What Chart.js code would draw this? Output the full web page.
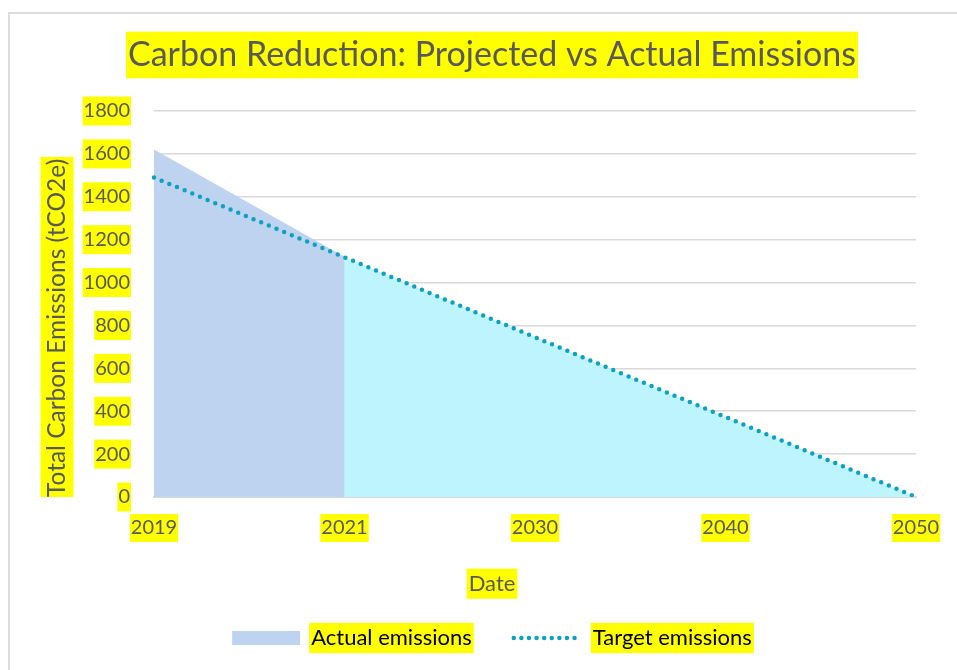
<!DOCTYPE html>
<html>
<head>
<meta charset="utf-8">
<script src="https://cdn.jsdelivr.net/npm/chart.js@4.4.0/dist/chart.umd.min.js"></script>
<style>
  html, body { margin: 0; padding: 0; background: #fff; overflow: hidden; }
  #frame { position: absolute; left: 8px; top: 12px; width: 1000px; height: 700px;
           border-left: 2px solid #dcdcdc; border-top: 2px solid #dcdcdc; }
  #wrap { position: absolute; left: 0; top: 0; width: 984px; height: 670px; }
</style>
</head>
<body>
<div id="frame"></div>
<div id="wrap"><canvas id="chart-emissions"></canvas></div>
<script>
const years = ['2019', '2021', '2030', '2040', '2050'];
const actual_emissions = [1620, 1120, null, null, null];
const target_emissions = [1490, 1118, 745, 373, 0];
const y_tick_values = [0, 200, 400, 600, 800, 1000, 1200, 1400, 1600, 1800];

const TEXT_COLOR = '#595959';
const HIGHLIGHT = '#ffff00';
const ACTUAL_FILL = '#bdd3ef';
const TARGET_FILL = '#bef4fd';
const TARGET_LINE = '#0ea2bf';
const FONT = 'Lato';

Chart.defaults.font.family = FONT;
Chart.defaults.color = TEXT_COLOR;

// yellow marker behind the title, axis title and legend texts
function markRect(ctx, x, y, w, h) {
  ctx.fillStyle = HIGHLIGHT;
  ctx.fillRect(x, y, w, h);
}

const highlightPlugin = {
  id: 'highlight',
  beforeDraw(chart) {
    const { toFont, toPadding } = Chart.helpers;
    const ctx = chart.ctx;
    ctx.save();

    // title + subtitle (both are Title boxes)
    chart.boxes
      .filter(b => chart.titleBlock && b.constructor === chart.titleBlock.constructor && b.options.display)
      .forEach(b => {
        const font = toFont(b.options.font);
        const pad = toPadding(b.options.padding);
        ctx.font = font.string;
        const w = ctx.measureText(b.options.text).width;
        const cx = (b.left + b.right) / 2;
        const cy = b.top + pad.top + font.lineHeight / 2;
        const h = font.size * 1.37;
        markRect(ctx, cx - w / 2 - 2, cy - h / 2, w + 4, h);
      });

    // rotated y axis title, starts at the bottom of the scale
    const ys = chart.scales.y;
    const yt = ys.options.title;
    const yFont = toFont(yt.font);
    const yPad = toPadding(yt.padding);
    ctx.font = yFont.string;
    const yw = ctx.measureText(yt.text).width;
    const ycx = ys.left + yPad.top + yFont.lineHeight / 2;
    const yh = yFont.size * 1.35;
    markRect(ctx, ycx - yh / 2, ys.bottom - yw - 2, yh, yw + 2);

    // legend texts
    const legend = chart.legend;
    const lab = legend.options.labels;
    const lFont = toFont(lab.font);
    ctx.font = lFont.string;
    legend.legendItems.forEach((item, i) => {
      const hb = legend.legendHitBoxes[i];
      const w = ctx.measureText(item.text).width;
      const tx = hb.left + lab.pointStyleWidth + lFont.size / 2;
      const cy = hb.top + hb.height / 2;
      const h = lFont.size * 1.38;
      markRect(ctx, tx - 2, cy - h / 2, w + 4, h);
    });

    ctx.restore();
  }
};

const ctx = document.getElementById('chart-emissions');
const chart = new Chart(ctx, {
  type: 'line',
  plugins: [highlightPlugin],
  data: {
    labels: years,
    datasets: [
      {
        label: 'Actual emissions',
        data: actual_emissions,
        backgroundColor: ACTUAL_FILL,
        borderColor: 'rgba(0,0,0,0)',
        borderWidth: 0,
        pointRadius: 0,
        fill: 'origin',
        spanGaps: false
      },
      {
        label: 'Target emissions',
        data: target_emissions,
        backgroundColor: TARGET_FILL,
        borderColor: TARGET_LINE,
        borderWidth: 4.5,
        borderDash: [0, 8.3],
        borderCapStyle: 'round',
        pointRadius: 0,
        fill: 'origin'
      }
    ]
  },
  options: {
    responsive: true,
    maintainAspectRatio: false,
    animation: false,
    layout: {
      padding: { top: 0, left: 0, right: 0, bottom: 11 }
    },
    scales: {
      x: {
        grid: { display: false },
        border: { display: true, color: '#d9d9d9', width: 2 },
        ticks: {
          font: { size: 20 },
          padding: 11,
          maxRotation: 0,
          autoSkip: false,
          showLabelBackdrop: true,
          backdropColor: HIGHLIGHT,
          backdropPadding: { x: 1, y: 2 }
        },
        afterFit: function (scale) {
          scale.height = 73.5;
        }
      },
      y: {
        min: y_tick_values[0],
        max: y_tick_values[y_tick_values.length - 1],
        grid: { color: '#d9d9d9', lineWidth: 1.5, drawTicks: false },
        border: { display: false },
        ticks: {
          stepSize: y_tick_values[1] - y_tick_values[0],
          callback: function (value) {
            return String(value);
          },
          font: { size: 20 },
          padding: 24,
          showLabelBackdrop: true,
          backdropColor: HIGHLIGHT,
          backdropPadding: { x: 1, y: 2.5 }
        },
        title: {
          display: true,
          text: 'Total Carbon Emissions (tCO2e)',
          align: 'start',
          font: { size: 24.5 },
          padding: { top: 42.3, bottom: 0 }
        },
        afterFit: function (scale) {
          scale.width = 154;
        }
      },
      // empty spacer on the right so the plot ends where the reference does
      yPad: {
        type: 'linear',
        position: 'right',
        display: true,
        grid: { display: false },
        border: { display: false },
        ticks: { display: false },
        afterFit: function (scale) {
          scale.width = 68;
        }
      }
    },
    plugins: {
      filler: {
        drawTime: 'beforeDatasetsDraw'
      },
      title: {
        display: true,
        text: 'Carbon Reduction: Projected vs Actual Emissions',
        color: TEXT_COLOR,
        font: { size: 34, weight: 'normal' },
        padding: { top: 34.6, bottom: 35.6 }
      },
      subtitle: {
        display: true,
        text: 'Date',
        position: 'bottom',
        weight: 500,
        color: TEXT_COLOR,
        font: { size: 22, weight: 'normal' },
        padding: { top: 0, bottom: -11.9 }
      },
      legend: {
        display: true,
        position: 'bottom',
        align: 'center',
        labels: {
          usePointStyle: true,
          pointStyleWidth: 68,
          boxHeight: 14,
          padding: 42,
          color: TEXT_COLOR,
          font: { size: 22 },
          generateLabels: function () {
            return [
              {
                text: 'Actual emissions',
                fillStyle: ACTUAL_FILL,
                strokeStyle: ACTUAL_FILL,
                lineWidth: 0,
                pointStyle: 'rect',
                datasetIndex: 0
              },
              {
                text: 'Target emissions',
                fillStyle: 'rgba(0,0,0,0)',
                strokeStyle: TARGET_LINE,
                lineWidth: 4.5,
                lineDash: [0, 7.6],
                lineCap: 'round',
                pointStyle: 'line',
                datasetIndex: 1
              }
            ];
          }
        }
      },
      tooltip: { enabled: false }
    }
  }
});
</script>
</body>
</html>
